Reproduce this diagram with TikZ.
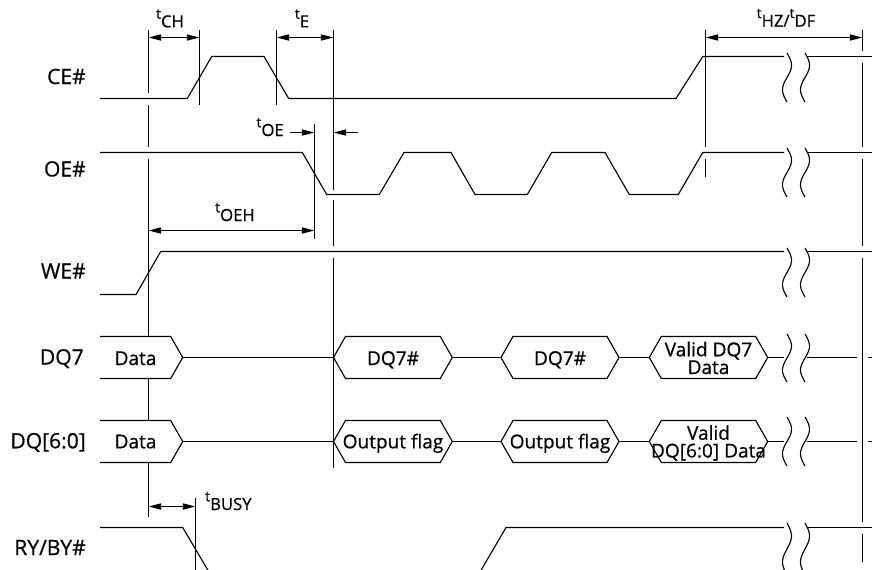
\documentclass[tikz,border=0pt]{standalone}
\usepackage{fontspec}
\setmainfont{Open Sans}[FakeBold=0.6]
\usetikzlibrary{arrows.meta}
\newcommand\squig[3]{%
  \draw[sig] plot[domain=0:1, samples=25, smooth] ({#1+4.5*sin(360*\x)}, {#2+\x*(#3-#2)});}
\newcommand\hexa[3]{% left point x, right point x, centre y
  \draw[sig] (#1,#3) -- (#1+12,#3-21) -- (#2-12,#3-21) -- (#2,#3)
    -- (#2-12,#3+21) -- (#1+12,#3+21) -- cycle;}
\newcommand\tl[1]{{\fontsize{10.5}{10}\selectfont\raisebox{6.5pt}{t}}#1}
\begin{document}
\begin{tikzpicture}[x=0.75pt,y=-0.75pt,
  sig/.style={line width=0.85pt, line join=miter},
  vl/.style={line width=0.85pt},
  dim/.style={line width=0.85pt, {Triangle[length=9.5pt,width=4.6pt]}-{Triangle[length=9.5pt,width=4.6pt]}},
  ardim/.style={line width=0.85pt, -{Triangle[length=9.5pt,width=4.6pt]}},
  signame/.style={anchor=base east, inner sep=0pt, font=\fontsize{15.8}{18}\selectfont},
  txt/.style={anchor=base, inner sep=0pt, font=\fontsize{14.3}{16}\selectfont},
  txt2/.style={align=center, inner sep=0pt, font=\fontsize{14.3}{13.3}\selectfont},
  tlab/.style={anchor=base, inner sep=0pt, font=\fontsize{12.5}{14}\selectfont}]
\clip (0,0) rectangle (872,569);
% ---------- signal names
\node[signame] (nCE) at (86,84) {CE\#};
\node[signame] (nOE) at (86,176.5) {OE\#};
\node[signame] (nWE) at (86,278.5) {WE\#};
\node[signame] (nDQ7) at (84,364.5) {DQ7};
\node[signame] (nDQ60) at (86,448.3) {DQ[6:0]};
\node[signame] (nRY) at (86,555) {RY/BY\#};
% ---------- CE#
\draw[sig] (100,98.5) -- (187.3,98.5) -- (211.7,56.5) -- (264,56.5) -- (288.7,98.5) -- (676,98.5) -- (702.7,56.5) -- (784,56.5);
\draw[sig] (807,56.5) -- (872,56.5);
% ---------- OE#
\draw[sig] (100,152.5) -- (302.3,152.5) -- (326.7,194.5) -- (379.3,194.5) -- (404,152.5) -- (451,152.5) -- (475,194.5) -- (527.3,194.5) -- (551.7,152.5) -- (605,152.5) -- (629.3,194.5) -- (678.3,194.5) -- (702.7,152.5) -- (784,152.5);
\draw[sig] (807,152.5) -- (872,152.5);
% ---------- WE#
\draw[sig] (100,294.5) -- (136,294.5) -- (160.7,251.5) -- (784,251.5);
\draw[sig] (807,251.5) -- (872,251.5);
% ---------- DQ7
\draw[sig] (100,336.5) -- (170.7,336.5) -- (182.7,357.5) -- (170.7,378.5) -- (100,378.5);
\draw[sig] (182.7,357.5) -- (333.5,357.5);
\hexa{333.5}{452.3}{357.5}
\draw[sig] (452.3,357.5) -- (501,357.5);
\hexa{501}{619}{357.5}
\draw[sig] (619,357.5) -- (649.3,357.5);
\hexa{649.3}{767.7}{357.5}
\draw[sig] (767.7,357.5) -- (784,357.5);
\draw[sig] (807,357.5) -- (857,357.5);
\draw[sig] (868,357.5) -- (872,357.5);
\node[txt] (d1) at (135.5,365) {Data};
\node[txt] (d2) at (393,365) {DQ7\#};
\node[txt] (d3) at (560,365) {DQ7\#};
\node[txt2] (d4) at (708.5,358) {Valid DQ7\\Data};
% ---------- DQ[6:0]
\draw[sig] (100,420.5) -- (170.7,420.5) -- (182.7,441.5) -- (170.7,462.5) -- (100,462.5);
\draw[sig] (182.7,441.5) -- (333.5,441.5);
\hexa{333.5}{452.3}{441.5}
\draw[sig] (452.3,441.5) -- (501,441.5);
\hexa{501}{619}{441.5}
\draw[sig] (619,441.5) -- (649.3,441.5);
\hexa{649.3}{767.7}{441.5}
\draw[sig] (767.7,441.5) -- (784,441.5);
\draw[sig] (807,441.5) -- (857,441.5);
\draw[sig] (868,441.5) -- (872,441.5);
\node[txt] (e1) at (135.5,448.3) {Data};
\node[txt] (e2) at (393,448.3) {Output flag};
\node[txt] (e3) at (560,448.3) {Output flag};
\node[txt2] (e4) at (708.5,443) {Valid\\DQ[6:0] Data};
% ---------- RY/BY#
\draw[sig] (100,527.5) -- (182.7,527.5) -- (209,572);
\draw[sig] (480,572) -- (506,527.5) -- (784,527.5);
\draw[sig] (807,527.5) -- (872,527.5);
% ---------- breaks
\foreach \a/\b in {53/102,148/197,248/297,334/382,417/466,523/575}{
  \squig{787}{\a}{\b}
  \squig{805}{\a}{\b}
}
% ---------- vertical reference lines
\draw[vl] (148.5,30) -- (148.5,92.5) (148.5,104.5) -- (148.5,146.5) (148.5,158.5) -- (148.5,336.5) (148.5,378.5) -- (148.5,420.5) (148.5,462.5) -- (148.5,517);
\draw[vl] (199.5,30) -- (199.5,105);
\draw[vl] (276.5,30) -- (276.5,105);
\draw[vl] (333.5,30) -- (333.5,189.5) (333.5,200) -- (333.5,246) (333.5,258) -- (333.5,468);
\draw[vl] (314.5,124) -- (314.5,239);
\draw[vl] (705.5,30) -- (705.5,146.5) (705.5,158.5) -- (705.5,177);
\draw[vl] (862.5,30) -- (862.5,50.5) (862.5,63) -- (862.5,146.5) (862.5,158.5) -- (862.5,246) (862.5,257.5) -- (862.5,521.5) (862.5,533.5) -- (862.5,562);
\draw[vl] (195.5,498) -- (195.5,572);
% ---------- dimensions
\coordinate (ch1) at (148.5,37.5); \coordinate (ch2) at (199.5,37.5);
\draw[dim] (ch1) -- (ch2);
\node[tlab] (lCH) at (170,27.3) {\tl{CH}};
\coordinate (e1a) at (276.5,37.5); \coordinate (e1b) at (333.5,37.5);
\draw[dim] (e1a) -- (e1b);
\node[tlab] (lE) at (302,27.3) {\tl{E}};
\coordinate (hz1) at (705.5,37.5); \coordinate (hz2) at (862.5,37.5);
\draw[dim] (hz1) -- (hz2);
\node[tlab] (lHZ) at (786,26.7) {\tl{HZ}/\tl{DF}};
\coordinate (oe0) at (290,132.5); \coordinate (oe1) at (314.5,132.5);
\coordinate (oe2) at (333.5,132.5); \coordinate (oe3) at (358,132.5);
\draw[ardim] (oe0) -- (oe1);
\draw[ardim] (oe3) -- (oe2);
\node[tlab, anchor=base east] (lOE) at (284,136) {\tl{OE}};
\coordinate (oh1) at (148.5,230.5); \coordinate (oh2) at (314.5,230.5);
\draw[dim] (oh1) -- (oh2);
\node[tlab] (lOEH) at (235,221) {\tl{OEH}};
\coordinate (by1) at (148.5,506.5); \coordinate (by2) at (195.5,506.5);
\draw[dim] (by1) -- (by2);
\node[tlab, anchor=base west] (lBY) at (205,510) {\tl{BUSY}};
\end{tikzpicture}
\end{document}
